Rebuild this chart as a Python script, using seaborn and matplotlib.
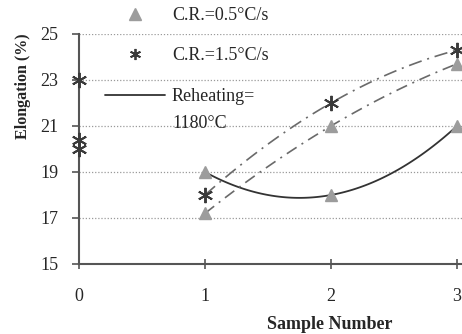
import matplotlib
matplotlib.use("Agg")
import matplotlib.pyplot as plt
import seaborn as sns
import pandas as pd
from matplotlib.lines import Line2D

# ---- data ----
sample = [1, 2, 3]
elong_tri_reheat = [19.0, 18.0, 21.0]     # C.R.=0.5, reheating 1180 (solid trend)
elong_tri_other = [17.2, 21.0, 23.7]      # C.R.=0.5 (dash-dot trend)
elong_star = [18.0, 22.0, 24.3]           # C.R.=1.5 (dash-dot trend)
star_axis_x = [0, 0, 0]
star_axis_y = [23.0, 20.4, 20.0]
yticks = [15, 17, 19, 21, 23, 25]
xticks = [0, 1, 2, 3]
legend_labels = ["C.R.=0.5°C/s", "C.R.=1.5°C/s", "Reheating="]
legend_extra = "1180°C"

sns.set_theme(style="white")
plt.rcParams['font.family'] = ['Liberation Serif', 'DejaVu Serif']
plt.rcParams['mathtext.fontset'] = 'stix'

TXT = "#262626"
TRI = "#9c9c9c"
STAR = "#3a3a3a"
DASH = "#6a6a6a"

fig = plt.figure(figsize=(4.62, 3.34), dpi=100)
ax = fig.add_axes([79/462, 1-264/334, 1-79/462, (264-34)/334])

df_a = pd.DataFrame({"x": sample, "y": elong_tri_reheat})
df_b = pd.DataFrame({"x": sample, "y": elong_tri_other})
df_s = pd.DataFrame({"x": sample, "y": elong_star})

sns.regplot(data=df_a, x="x", y="y", order=2, ci=None, scatter=False, truncate=True,
            ax=ax, line_kws=dict(color="#333333", lw=1.3, linestyle="-"))
sns.regplot(data=df_b, x="x", y="y", order=2, ci=None, scatter=False, truncate=True,
            ax=ax, line_kws=dict(color=DASH, lw=1.2, linestyle=(0, (7, 3.5, 1.2, 3.5))))
sns.regplot(data=df_s, x="x", y="y", order=2, ci=None, scatter=False, truncate=True,
            ax=ax, line_kws=dict(color=DASH, lw=1.2, linestyle=(0, (8, 3.5, 1.2, 3.5))))

star_marker = (6, 2, 0)
ax.plot(sample, elong_tri_reheat, linestyle="none", marker="^", ms=8, color=TRI, mec=TRI, clip_on=False, zorder=4)
ax.plot(sample, elong_tri_other, linestyle="none", marker="^", ms=8, color=TRI, mec=TRI, clip_on=False, zorder=4)
ax.plot(sample, elong_star, linestyle="none", marker=star_marker, ms=11, mew=1.4, color=STAR, clip_on=False, zorder=5)
ax.plot(star_axis_x, star_axis_y, linestyle="none", marker=star_marker, ms=11, mew=1.4, color=STAR, clip_on=False, zorder=5)

ax.set_xlim(0, 3.04)
ax.set_ylim(15, 25)
ax.set_xticks(xticks)
ax.set_yticks(yticks)
ax.set_xticklabels([str(v) for v in xticks], fontsize=13, color=TXT)
ax.set_yticklabels([str(v) for v in yticks], fontsize=13, color=TXT)
ax.tick_params(axis="x", direction="inout", length=7, width=1.2, color="#555555", pad=14)
ax.tick_params(axis="y", direction="out", length=5, width=1.2, color="#555555", pad=10)
ax.xaxis.set_ticks_position("bottom")
ax.yaxis.set_ticks_position("left")

for g in [17, 19, 21, 23, 25]:
    ax.axhline(g, color="#9a9a9a", lw=0.9, linestyle=(0, (1, 1.5)), zorder=0)

for s in ["top", "right"]:
    ax.spines[s].set_visible(False)
for s in ["left", "bottom"]:
    ax.spines[s].set_color("#555555")
    ax.spines[s].set_linewidth(1.5)

ax.set_xlabel("Sample Number", fontsize=13, fontweight="bold", color=TXT)
ax.xaxis.set_label_coords((330-79)/(462-79), -(316-264)/230)
ax.set_ylabel("Elongation (%)", fontsize=11.5, fontweight="bold", color=TXT)
ax.yaxis.set_label_coords(-(79-31)/383, (264-86)/230)

handles = [
    Line2D([], [], linestyle="none", marker="^", ms=8, color=TRI, mec=TRI),
    Line2D([], [], linestyle="none", marker=star_marker, ms=8, mew=1.3, color=STAR),
    Line2D([], [], color="#333333", lw=1.3),
]
leg = fig.legend(handles, legend_labels, loc="upper left",
                 bbox_to_anchor=(105/462, 1-7/334), frameon=False, fontsize=13,
                 handlelength=3.3, handletextpad=0.4, labelspacing=1.3,
                 borderpad=0, borderaxespad=0)
for t in leg.get_texts():
    t.set_color(TXT)
fig.text(172/462, 1-123/334, legend_extra, fontsize=13, color=TXT, va="center", ha="left")

fig.savefig("out.png", dpi=100, facecolor="white")
